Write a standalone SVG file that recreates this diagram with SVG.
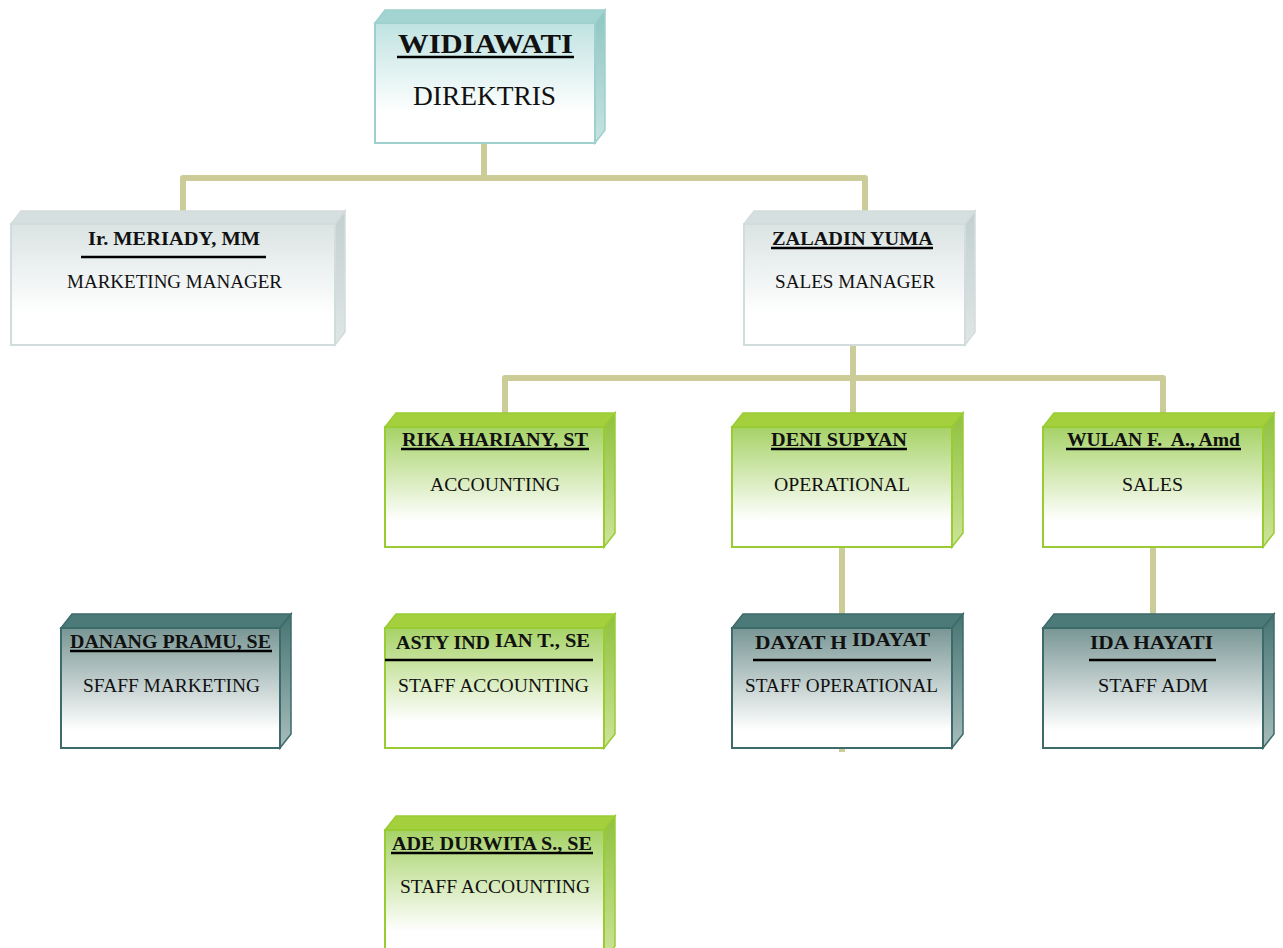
<svg xmlns="http://www.w3.org/2000/svg" width="1283" height="948" viewBox="0 0 1283 948">
<defs>
<linearGradient id="fTeal" x1="0" y1="0" x2="0" y2="1"><stop offset="0" stop-color="#bfe3e1"/><stop offset="0.75" stop-color="#ffffff"/></linearGradient>
<linearGradient id="sTeal" x1="0" y1="0" x2="0" y2="1"><stop offset="0" stop-color="#8fc6c3"/><stop offset="1" stop-color="#c6e3e1"/></linearGradient>
<linearGradient id="fGray" x1="0" y1="0" x2="0" y2="1"><stop offset="0" stop-color="#dbe3e3"/><stop offset="0.75" stop-color="#ffffff"/></linearGradient>
<linearGradient id="sGray" x1="0" y1="0" x2="0" y2="1"><stop offset="0" stop-color="#c3cfcf"/><stop offset="1" stop-color="#dfe6e6"/></linearGradient>
<linearGradient id="fGreen" x1="0" y1="0" x2="0" y2="1"><stop offset="0" stop-color="#a6d266"/><stop offset="0.78" stop-color="#ffffff"/></linearGradient>
<linearGradient id="sGreen" x1="0" y1="0" x2="0" y2="1"><stop offset="0" stop-color="#8fc13e"/><stop offset="1" stop-color="#cde49a"/></linearGradient>
<linearGradient id="fDark" x1="0" y1="0" x2="0" y2="1"><stop offset="0" stop-color="#789694"/><stop offset="0.85" stop-color="#ffffff"/></linearGradient>
<linearGradient id="sDark" x1="0" y1="0" x2="0" y2="1"><stop offset="0" stop-color="#467473"/><stop offset="1" stop-color="#a7bdbc"/></linearGradient>
</defs>
<style>
.conn{fill:none;stroke:#cccc99;stroke-width:6;stroke-linejoin:round}
.teal .top{fill:#a2d4d1;stroke:#9fd0cd;stroke-width:1.5}
.teal .side{fill:url(#sTeal);stroke:#9fd0cd;stroke-width:1.5}
.teal .front{fill:url(#fTeal);stroke:#9fd0cd;stroke-width:2}
.gray .top{fill:#d6dfdf;stroke:#d3dcdc;stroke-width:1.5}
.gray .side{fill:url(#sGray);stroke:#d3dcdc;stroke-width:1.5}
.gray .front{fill:url(#fGray);stroke:#d3dcdc;stroke-width:2}
.green .top{fill:#a3d03c;stroke:#99cc33;stroke-width:1.5}
.green .side{fill:url(#sGreen);stroke:#99cc33;stroke-width:1.5}
.green .front{fill:url(#fGreen);stroke:#99cc33;stroke-width:2}
.dark .top{fill:#4b7a78;stroke:#3d6b6a;stroke-width:1.5}
.dark .side{fill:url(#sDark);stroke:#3d6b6a;stroke-width:1.5}
.dark .front{fill:url(#fDark);stroke:#3d6b6a;stroke-width:2}
.nm{font-family:"Liberation Serif","Times New Roman",serif;font-weight:bold;font-size:19px;fill:#111}
.rl{font-family:"Liberation Serif","Times New Roman",serif;font-size:18px;fill:#111}
.big{font-size:27px}
.ul{stroke:#000;stroke-width:2.5}
</style>
<g id="connectors">
<polyline class="conn" points="484,143 484,178"/>
<polyline class="conn" points="183,214 183,178 865,178 865,214"/>
<polyline class="conn" points="853,345 853,378"/>
<polyline class="conn" points="505,415 505,378 1163,378 1163,415"/>
<polyline class="conn" points="853,378 853,415"/>
<polyline class="conn" points="842,547 842,752"/>
<polyline class="conn" points="1153,547 1153,616"/>
</g>
<g id="widiawati" class="teal">
<polygon class="top" points="375,23 385,10 605,10 595,23"/>
<polygon class="side" points="595,23 605,10 605,130 595,143"/>
<rect class="front" x="375" y="23" width="220" height="120"/>
<text class="nm big" x="398" y="53" textLength="175" lengthAdjust="spacingAndGlyphs">WIDIAWATI</text>
<line class="ul" x1="397" y1="57" x2="574" y2="57" stroke-width="3"/>
<text class="rl big" x="413" y="105" textLength="143" lengthAdjust="spacingAndGlyphs">DIREKTRIS</text>
</g>
<g id="meriady" class="gray">
<polygon class="top" points="11,224 21,211 345,211 335,224"/>
<polygon class="side" points="335,224 345,211 345,332 335,345"/>
<rect class="front" x="11" y="224" width="324" height="121"/>
<text class="nm" x="88" y="245" textLength="172" lengthAdjust="spacingAndGlyphs">Ir. MERIADY, MM</text>
<line class="ul" x1="81" y1="257" x2="266" y2="257" stroke-width="3"/>
<text class="rl" x="67" y="288" textLength="215" lengthAdjust="spacingAndGlyphs">MARKETING MANAGER</text>
</g>
<g id="zaladin" class="gray">
<polygon class="top" points="744,224 754,211 975,211 965,224"/>
<polygon class="side" points="965,224 975,211 975,332 965,345"/>
<rect class="front" x="744" y="224" width="221" height="121"/>
<text class="nm" x="772" y="245" textLength="161" lengthAdjust="spacingAndGlyphs">ZALADIN YUMA</text>
<line class="ul" x1="771" y1="248" x2="933" y2="248"/>
<text class="rl" x="775" y="288" textLength="160" lengthAdjust="spacingAndGlyphs">SALES MANAGER</text>
</g>
<g id="rika" class="green">
<polygon class="top" points="385,427 396,413 615,413 604,427"/>
<polygon class="side" points="604,427 615,413 615,533 604,547"/>
<rect class="front" x="385" y="427" width="219" height="120"/>
<text class="nm" x="402" y="446" textLength="186" lengthAdjust="spacingAndGlyphs">RIKA HARIANY, ST</text>
<line class="ul" x1="401" y1="449" x2="589" y2="449"/>
<text class="rl" x="430" y="491" textLength="130" lengthAdjust="spacingAndGlyphs">ACCOUNTING</text>
</g>
<g id="deni" class="green">
<polygon class="top" points="732,427 743,413 963,413 952,427"/>
<polygon class="side" points="952,427 963,413 963,533 952,547"/>
<rect class="front" x="732" y="427" width="220" height="120"/>
<text class="nm" x="771" y="446" textLength="136" lengthAdjust="spacingAndGlyphs">DENI SUPYAN</text>
<line class="ul" x1="771" y1="449" x2="907" y2="449"/>
<text class="rl" x="774" y="491" textLength="136" lengthAdjust="spacingAndGlyphs">OPERATIONAL</text>
</g>
<g id="wulan" class="green">
<polygon class="top" points="1043,427 1054,413 1274,413 1263,427"/>
<polygon class="side" points="1263,427 1274,413 1274,533 1263,547"/>
<rect class="front" x="1043" y="427" width="220" height="120"/>
<text class="nm" x="1067" y="446" xml:space="preserve" textLength="173" lengthAdjust="spacingAndGlyphs">WULAN F.  A., Amd</text>
<line class="ul" x1="1066" y1="449" x2="1241" y2="449"/>
<text class="rl" x="1122" y="491" textLength="61" lengthAdjust="spacingAndGlyphs">SALES</text>
</g>
<g id="danang" class="dark">
<polygon class="top" points="61,628 72,614 291,614 280,628"/>
<polygon class="side" points="280,628 291,614 291,734 280,748"/>
<rect class="front" x="61" y="628" width="219" height="120"/>
<text class="nm" x="70" y="648" textLength="201" lengthAdjust="spacingAndGlyphs">DANANG PRAMU, SE</text>
<line class="ul" x1="70" y1="651" x2="272" y2="651"/>
<text class="rl" x="83" y="692" textLength="177" lengthAdjust="spacingAndGlyphs">SFAFF MARKETING</text>
</g>
<g id="asty" class="green">
<polygon class="top" points="385,628 396,614 615,614 604,628"/>
<polygon class="side" points="604,628 615,614 615,734 604,748"/>
<rect class="front" x="385" y="628" width="219" height="120"/>
<text class="nm" x="396" y="649" textLength="94" lengthAdjust="spacingAndGlyphs">ASTY IND</text>
<text class="nm" x="495" y="647" textLength="95" lengthAdjust="spacingAndGlyphs">IAN T., SE</text>
<line class="ul" x1="385" y1="660" x2="593" y2="660" stroke-width="3"/>
<text class="rl" x="398" y="692" textLength="191" lengthAdjust="spacingAndGlyphs">STAFF ACCOUNTING</text>
</g>
<g id="dayat" class="dark">
<polygon class="top" points="732,628 743,614 963,614 952,628"/>
<polygon class="side" points="952,628 963,614 963,734 952,748"/>
<rect class="front" x="732" y="628" width="220" height="120"/>
<text class="nm" x="755" y="649" textLength="92" lengthAdjust="spacingAndGlyphs">DAYAT H</text>
<text class="nm" x="852" y="646" textLength="78" lengthAdjust="spacingAndGlyphs">IDAYAT</text>
<line class="ul" x1="753" y1="660" x2="931" y2="660" stroke-width="3"/>
<text class="rl" x="745" y="692" textLength="193" lengthAdjust="spacingAndGlyphs">STAFF OPERATIONAL</text>
</g>
<g id="ida" class="dark">
<polygon class="top" points="1043,628 1054,614 1274,614 1263,628"/>
<polygon class="side" points="1263,628 1274,614 1274,734 1263,748"/>
<rect class="front" x="1043" y="628" width="220" height="120"/>
<text class="nm" x="1090" y="649" textLength="123" lengthAdjust="spacingAndGlyphs">IDA HAYATI</text>
<line class="ul" x1="1089" y1="660" x2="1216" y2="660" stroke-width="3"/>
<text class="rl" x="1098" y="692" textLength="110" lengthAdjust="spacingAndGlyphs">STAFF ADM</text>
</g>
<g id="ade" class="green">
<polygon class="top" points="385,830 396,816 615,816 604,830"/>
<polygon class="side" points="604,830 615,816 615,946 604,960"/>
<rect class="front" x="385" y="830" width="219" height="130"/>
<text class="nm" x="392" y="850" textLength="200" lengthAdjust="spacingAndGlyphs">ADE DURWITA S., SE</text>
<line class="ul" x1="391" y1="853" x2="593" y2="853"/>
<text class="rl" x="400" y="893" textLength="190" lengthAdjust="spacingAndGlyphs">STAFF ACCOUNTING</text>
</g>
</svg>
